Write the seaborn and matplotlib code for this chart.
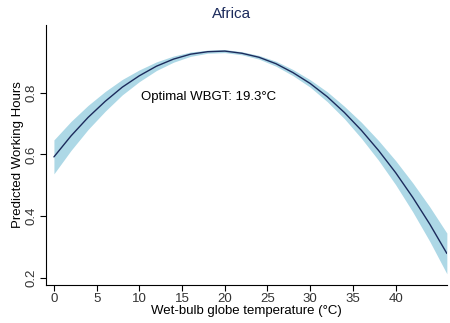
import matplotlib
matplotlib.use("Agg")
import matplotlib.pyplot as plt
import seaborn as sns
import pandas as pd

# Predicted working hours by wet-bulb globe temperature, with 95% CI
wbgt = [0, 2, 4, 6, 8, 10, 12, 14, 16, 18, 20, 22,
        24, 26, 28, 30, 32, 34, 36, 38, 40, 42, 44, 46]
predicted = [0.592, 0.660, 0.720, 0.772, 0.818, 0.855, 0.886, 0.909,
             0.925, 0.933, 0.935, 0.928, 0.915, 0.894, 0.865, 0.830,
             0.787, 0.736, 0.678, 0.613, 0.541, 0.461, 0.374, 0.279]
ci_half = [0.055, 0.047, 0.039, 0.032, 0.025, 0.019, 0.014, 0.010,
           0.007, 0.005, 0.005, 0.005, 0.006, 0.008, 0.010, 0.012,
           0.016, 0.020, 0.026, 0.032, 0.039, 0.047, 0.056, 0.066]
x_ticks = [0, 5, 10, 15, 20, 25, 30, 35, 40]
y_ticks = [0.2, 0.4, 0.6, 0.8]
optimal = 19.3

df = pd.DataFrame({"wbgt": wbgt, "pred": predicted, "hw": ci_half})
df["lo"] = df["pred"] - df["hw"]
df["hi"] = df["pred"] + df["hw"]

sns.set_style("white")
plt.rcParams["font.family"] = ["Liberation Sans", "DejaVu Sans"]

fig = plt.figure(figsize=(4.5, 3.23), dpi=100)
ax = fig.add_axes([0.102, 0.118, 0.891, 0.805])

ax.fill_between(df["wbgt"], df["lo"], df["hi"], color="#add8e6", lw=0)
sns.lineplot(data=df, x="wbgt", y="pred", ax=ax, color="#1c2b5c", lw=1.0)

ax.text(18.1, 0.787, f"Optimal WBGT: {optimal}\u00b0C", ha="center",
        va="center", fontsize=9.5, color="black")

ax.set_xlim(-0.94, 46)
ax.set_ylim(0.177, 1.02)
ax.set_xticks(x_ticks)
ax.set_yticks(y_ticks)
ax.set_yticklabels([f"{v:.1f}" for v in y_ticks], rotation=90, va="center")
ax.tick_params(axis="both", direction="out", length=4, width=0.8,
               labelsize=9.5, color="black", labelcolor="#333333", pad=2)
ax.xaxis.set_ticks_position("bottom")
ax.yaxis.set_ticks_position("left")
ax.set_xlabel("Wet-bulb globe temperature (\u00b0C)", fontsize=9.5,
              labelpad=0, color="black")
ax.set_ylabel("Predicted Working Hours", fontsize=9.5, labelpad=1,
              color="black")
for side in ["top", "right"]:
    ax.spines[side].set_visible(False)
for side in ["left", "bottom"]:
    ax.spines[side].set_color("black")
    ax.spines[side].set_linewidth(0.8)

fig.text(232 / 450, 1 - 14 / 323, "Africa", ha="center", va="center",
         fontsize=11, color="#1c2b5c")

fig.savefig("out.png", dpi=100)
